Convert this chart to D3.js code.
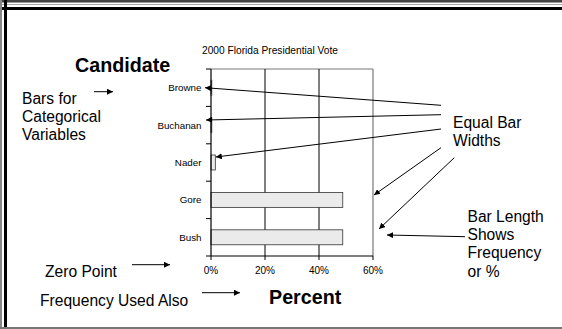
<!DOCTYPE html>
<html><head><meta charset="utf-8">
<script src="https://cdn.jsdelivr.net/npm/d3@7"></script>
<style>
html,body{margin:0;padding:0;background:#fff;}
svg{display:block;font-family:"Liberation Sans",Arial,sans-serif;}
</style></head>
<body>
<script>
const categories = ["Browne","Buchanan","Nader","Gore","Bush"];
const values = [0.3, 0.3, 1.6, 48.8, 48.8];
const xTickValues = [0, 20, 40, 60];
const chartTitle = "2000 Florida Presidential Vote";
const yTitle = "Candidate";
const xTitle = "Percent";
const leftNotes = [["Bars for","Categorical","Variables"],["Zero Point"],["Frequency Used Also"]];
const rightNotes = [["Equal Bar","Widths"],["Bar Length","Shows","Frequency","or %"]];

const W = 562, H = 329;
const svg = d3.select("body").append("svg").attr("width", W).attr("height", H);

// frame
svg.append("rect").attr("x",0).attr("y",0).attr("width",W).attr("height",2).attr("fill","#444");
svg.append("rect").attr("x",0).attr("y",2).attr("width",W).attr("height",1).attr("fill","#999");
svg.append("rect").attr("x",0).attr("y",4).attr("width",W).attr("height",1).attr("fill","#aaa");
svg.append("rect").attr("x",0).attr("y",7).attr("width",W).attr("height",3).attr("fill","#000");
svg.append("rect").attr("x",0).attr("y",0).attr("width",2).attr("height",H).attr("fill","#888");
svg.append("rect").attr("x",4).attr("y",0).attr("width",3).attr("height",H).attr("fill","#000");
svg.append("rect").attr("x",0).attr("y",H-2).attr("width",W).attr("height",2).attr("fill","#777");

const x = d3.scaleLinear().domain([0,60]).range([211,373]);
const yTop = 69, yBot = 256;
const y = d3.scaleBand().domain(categories).range([yTop,yBot]).paddingInner(0.6).paddingOuter(0.3);
const yc = d => y(d) + y.bandwidth()/2;

const defs = svg.append("defs");
defs.append("marker").attr("id","ah").attr("viewBox","0 0 10 10").attr("refX",10).attr("refY",5)
  .attr("markerWidth",6).attr("markerHeight",6).attr("markerUnits","userSpaceOnUse").attr("orient","auto")
  .append("path").attr("d","M0,0L10,5L0,10Z").attr("fill","#000");

// plot frame
svg.append("line").attr("x1",x(0)).attr("x2",x(60)).attr("y1",yTop).attr("y2",yTop).attr("stroke","#777").attr("stroke-width",1.2);
svg.append("line").attr("x1",x(60)).attr("x2",x(60)).attr("y1",yTop).attr("y2",yBot).attr("stroke","#777").attr("stroke-width",1.2);
// gridlines
svg.selectAll("line.grid").data(xTickValues.filter(v=>v>0 && v<60)).enter().append("line")
  .attr("class","grid").attr("x1",d=>x(d)).attr("x2",d=>x(d)).attr("y1",yTop).attr("y2",yBot)
  .attr("stroke","#000").attr("stroke-width",1);

// bars
svg.selectAll("rect.bar").data(categories).enter().append("rect").attr("class","bar")
  .attr("x",x(0)).attr("y",d=>y(d)).attr("width",(d,i)=>x(values[i])-x(0)).attr("height",y.bandwidth())
  .attr("fill","#ebebeb").attr("stroke","#333").attr("stroke-width",0.8);

// y axis
const step = y.step();
const yAxisG = svg.append("g").attr("transform",`translate(${x(0)},0)`);
yAxisG.append("line").attr("x1",0).attr("x2",0).attr("y1",yTop).attr("y2",yBot).attr("stroke","#000").attr("stroke-width",1.2);
yAxisG.selectAll("line.tk").data(d3.range(categories.length+1)).enter().append("line")
  .attr("x1",-5).attr("x2",0).attr("y1",i=>yTop+i*step).attr("y2",i=>yTop+i*step).attr("stroke","#000");
yAxisG.selectAll("text").data(categories).enter().append("text")
  .attr("x",-9.5).attr("y",d=>yc(d)).attr("dy","0.35em").attr("text-anchor","end")
  .attr("font-size",9.8).text(d=>d);

// x axis
const xAxisG = svg.append("g").attr("transform",`translate(0,${yBot})`);
xAxisG.append("line").attr("x1",x(0)).attr("x2",x(60)).attr("y1",0).attr("y2",0).attr("stroke","#000").attr("stroke-width",1.2);
xAxisG.selectAll("line.tk").data(xTickValues).enter().append("line")
  .attr("x1",d=>x(d)).attr("x2",d=>x(d)).attr("y1",0).attr("y2",4).attr("stroke","#000");
xAxisG.selectAll("text").data(xTickValues).enter().append("text")
  .attr("x",d=>x(d)).attr("y",18).attr("text-anchor","middle").attr("font-size",10).text(d=>d+"%");

// titles
svg.append("text").attr("x",270).attr("y",53.5).attr("text-anchor","middle").attr("font-size",10.2).text(chartTitle);
svg.append("text").attr("x",75).attr("y",72).attr("font-size",19.7).attr("font-weight","bold").text(yTitle);
svg.append("text").attr("x",269).attr("y",304).attr("font-size",19.7).attr("font-weight","bold").text(xTitle);

// notes
function multiline(lines, x0, yFirst, lh){
  const t = svg.append("text").attr("font-size",15.6);
  lines.forEach((l,i)=>t.append("tspan").attr("x",x0).attr("y",yFirst+i*lh).text(l));
}
multiline(leftNotes[0], 22, 104, 18);
multiline(leftNotes[1], 45, 277, 18);
multiline(leftNotes[2], 40, 305.5, 18);
multiline(rightNotes[0], 453, 127.5, 18.4);
multiline(rightNotes[1], 467.5, 221.5, 18.4);

// arrows
const arrows = [
  [94,91.7,113,91.7],
  [132,264.7,170,264.7],
  [202,292.7,240,292.7],
  [441,105.3,x(0)-6,yc("Browne")],
  [441,114.7,x(0)-5,120],
  [441,129,x(values[2])+0.5,157],
  [441,147.7,374,195],
  [454.3,157.7,379,229],
  [465,236.7,387,235]
];
svg.selectAll("line.arr").data(arrows).enter().append("line").attr("class","arr")
  .attr("x1",d=>d[0]).attr("y1",d=>d[1]).attr("x2",d=>d[2]).attr("y2",d=>d[3])
  .attr("stroke","#000").attr("stroke-width",1).attr("marker-end","url(#ah)");
</script>
</body></html>
